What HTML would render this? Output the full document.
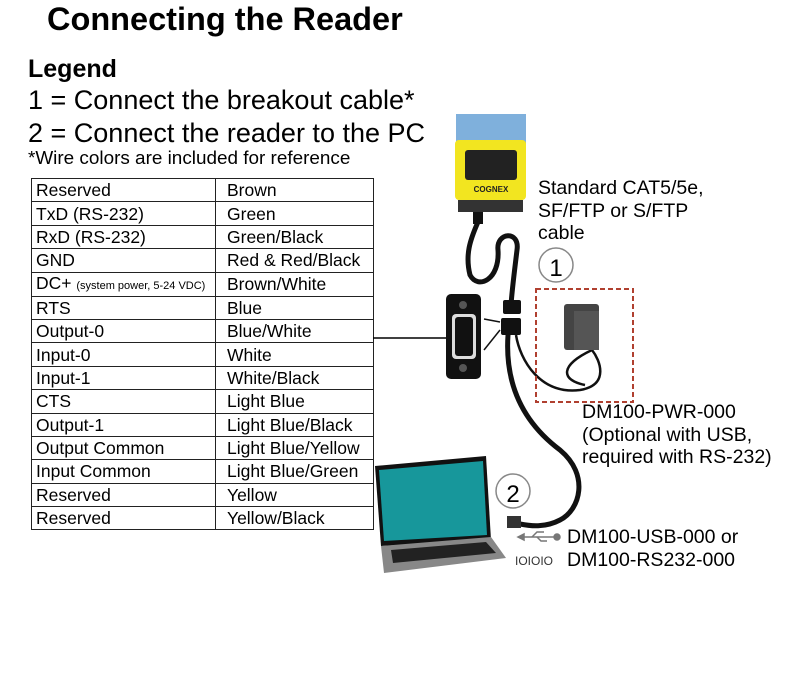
<!DOCTYPE html>
<html><head><meta charset="utf-8"><style>
body{margin:0;width:806px;height:678px;background:#fff;font-family:"Liberation Sans",Arial,sans-serif;position:relative;overflow:hidden;color:#000}
.a{position:absolute;white-space:nowrap}
table{position:absolute;left:31px;top:178px;border-collapse:collapse;width:343px}
td{border:1px solid #222;height:22.4px;padding:0 0 0 4px;font-size:17.5px;line-height:20px}
td:first-child{width:179px}
td+td{padding-left:11px}
</style></head><body>
<div class="a" style="left:47px;top:1px;font-size:32.5px;font-weight:bold">Connecting the Reader</div>
<div class="a" style="left:28px;top:55px;font-size:25px;font-weight:bold">Legend</div>
<div class="a" style="left:28px;top:85px;font-size:27px">1 = Connect the breakout cable*</div>
<div class="a" style="left:28px;top:118px;font-size:27px">2 = Connect the reader to the PC</div>
<div class="a" style="left:28px;top:148px;font-size:18.9px">*Wire colors are included for reference</div>
<table>
<tr><td>Reserved</td><td>Brown</td></tr>
<tr><td>TxD (RS-232)</td><td>Green</td></tr>
<tr><td>RxD (RS-232)</td><td>Green/Black</td></tr>
<tr><td>GND</td><td>Red &amp; Red/Black</td></tr>
<tr><td>DC+ <span style="font-size:11px">(system power, 5-24 VDC)</span></td><td>Brown/White</td></tr>
<tr><td>RTS</td><td>Blue</td></tr>
<tr><td>Output-0</td><td>Blue/White</td></tr>
<tr><td>Input-0</td><td>White</td></tr>
<tr><td>Input-1</td><td>White/Black</td></tr>
<tr><td>CTS</td><td>Light Blue</td></tr>
<tr><td>Output-1</td><td>Light Blue/Black</td></tr>
<tr><td>Output Common</td><td>Light Blue/Yellow</td></tr>
<tr><td>Input Common</td><td>Light Blue/Green</td></tr>
<tr><td>Reserved</td><td>Yellow</td></tr>
<tr><td>Reserved</td><td>Yellow/Black</td></tr>
</table>
<svg class="a" style="left:0;top:0" width="806" height="678">
<line x1="373" y1="338" x2="446" y2="338" stroke="#000" stroke-width="1.5"/>
<rect x="456" y="114" width="70" height="32" fill="#7fb0dc"/>
<rect x="455" y="140" width="71" height="60" rx="4" fill="#f2e520"/>
<rect x="465" y="150" width="52" height="30" rx="3" fill="#222"/>
<text x="491" y="192" font-size="8" font-weight="bold" text-anchor="middle" fill="#222" font-family="Liberation Sans">COGNEX</text>
<rect x="458" y="200" width="65" height="12" fill="#333"/>
<rect x="473" y="212" width="10" height="12" fill="#111"/>
<g fill="none" stroke="#111" stroke-width="5" stroke-linecap="round">
<path d="M478 222 C470 240 465 255 470 275 C478 290 500 280 498 250 C496 232 520 230 517 250 C514 275 512 290 511 305"/>
<path d="M508 335 C505 380 520 420 560 450 C590 475 580 510 560 520 C545 528 530 526 520 524"/>
</g>
<g fill="none" stroke="#111" stroke-width="2.5">
<path d="M516 335 C520 360 540 395 580 390 C610 385 600 360 592 350"/>
<path d="M592 350 C560 365 560 380 585 385"/>
</g>
<rect x="503" y="300" width="18" height="14" rx="2" fill="#111"/>
<rect x="501" y="318" width="20" height="17" rx="2" fill="#111"/>
<line x1="484" y1="319" x2="500" y2="322" stroke="#111" stroke-width="1.5"/>
<line x1="484" y1="350" x2="500" y2="330" stroke="#111" stroke-width="1.5"/>
<rect x="446" y="294" width="35" height="85" rx="5" fill="#111"/>
<rect x="452" y="314" width="24" height="45" rx="4" fill="#ddd"/>
<rect x="455" y="317" width="18" height="39" rx="3" fill="#111"/>
<circle cx="463" cy="305" r="4" fill="#555"/><circle cx="463" cy="368" r="4" fill="#555"/>
<rect x="536" y="289" width="97" height="113" fill="none" stroke="#b04030" stroke-width="2" stroke-dasharray="5,3"/>
<rect x="564" y="304" width="35" height="46" rx="3" fill="#444"/>
<rect x="574" y="311" width="25" height="39" fill="#555"/>
<circle cx="556" cy="265" r="17" fill="#fff" stroke="#888" stroke-width="1.5"/>
<text x="556" y="276" font-size="24" text-anchor="middle" font-family="Liberation Sans">1</text>
<circle cx="513" cy="491" r="17" fill="#fff" stroke="#888" stroke-width="1.5"/>
<text x="513" y="502" font-size="24" text-anchor="middle" font-family="Liberation Sans">2</text>
<polygon points="375,466 486,456 491,540 381,546" fill="#111"/>
<polygon points="379,470 483,461 487,535 384,541" fill="#17979b"/>
<polygon points="381,546 491,537 506,558 384,573" fill="#888"/>
<polygon points="391,550 486,542 496,553 393,563" fill="#222"/>
<rect x="507" y="516" width="14" height="12" fill="#333"/>
<g stroke="#777" stroke-width="1.5" fill="#777"><line x1="520" y1="537" x2="555" y2="537"/><circle cx="557" cy="537" r="3"/><polygon points="518,537 524,534 524,540"/><path d="M532 537 L537 532 L544 532" fill="none"/><path d="M537 537 L541 541 L547 541" fill="none"/></g>
<text x="515" y="565" font-size="12" fill="#333" font-family="Liberation Sans">IOIOIO</text>
</svg>
<div class="a" style="left:538px;top:177px;font-size:19.5px;line-height:22.5px">Standard CAT5/5e,<br>SF/FTP or S/FTP<br>cable</div>
<div class="a" style="left:582px;top:401px;font-size:19.5px;line-height:22.5px">DM100-PWR-000<br>(Optional with USB,<br>required with RS-232)</div>
<div class="a" style="left:567px;top:526px;font-size:19.5px;line-height:22.5px">DM100-USB-000 or<br>DM100-RS232-000</div>
</body></html>
